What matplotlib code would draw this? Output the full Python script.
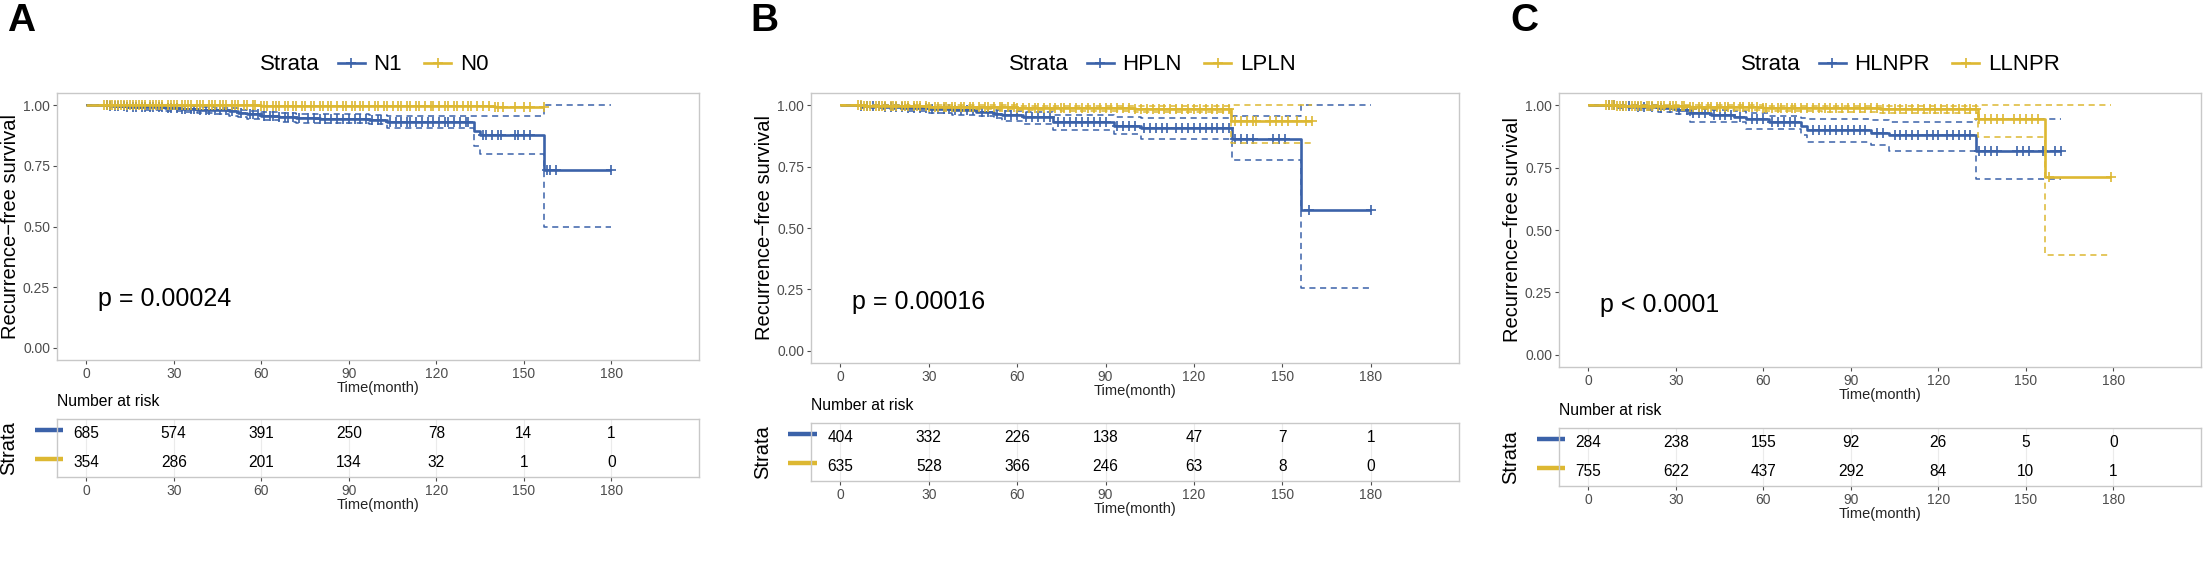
import numpy as np
import matplotlib.pyplot as plt
from matplotlib.lines import Line2D
from matplotlib.ticker import FormatStrFormatter

plt.rcParams['font.family'] = ['Liberation Sans', 'DejaVu Sans']

BLUE = '#3B62A9'
YELLOW = '#DDB832'
GREY = '#4D4D4D'

xticks = [0, 30, 60, 90, 120, 150, 180]
letters = ['A', 'B', 'C']
strata_names = [['N1', 'N0'], ['HPLN', 'LPLN'], ['HLNPR', 'LLNPR']]
p_labels = ['p = 0.00024', 'p = 0.00016', 'p < 0.0001']

# number at risk, first row = blue stratum
risk_A = [[685, 574, 391, 250, 78, 14, 1], [354, 286, 201, 134, 32, 1, 0]]
risk_B = [[404, 332, 226, 138, 47, 7, 1], [635, 528, 366, 246, 63, 8, 0]]
risk_C = [[284, 238, 155, 92, 26, 5, 0], [755, 622, 437, 292, 84, 10, 1]]

# ---- panel A ----
a_t1 = [0, 8, 14, 20, 27, 33, 38, 44, 49, 52, 55, 60, 66, 72, 80, 97, 103, 133, 135, 157]
a_s1 = [1.0, .997, .994, .991, .988, .985, .982, .978, .974, .968, .962, .957, .951, .945, .942, .938, .932, .893, .875, .731]
a_up1 = [1.0, 1.0, 1.0, .999, .997, .995, .993, .990, .987, .982, .977, .973, .968, .964, .962, .960, .957, .957, .957, 1.0]
a_lo1 = [1.0, .992, .987, .982, .977, .972, .968, .962, .957, .951, .944, .938, .932, .926, .925, .924, .905, .83, .80, .50]
a_end1 = 180
a_c1 = [7, 8, 10, 11, 13, 14, 16, 17, 19, 20, 22, 23, 25, 26, 28, 29, 31, 33, 34, 36, 37, 39, 41, 42,
        44, 46, 48, 50, 53, 56, 57, 59, 61, 63, 64, 66, 68, 69, 71, 73, 76, 78, 80, 82, 84, 86, 88, 90,
        92, 94, 96, 98, 100, 101, 104, 106, 108, 110, 111, 113, 115, 117, 119, 121, 123, 124, 126, 128,
        130, 131, 136, 137, 139, 141, 142, 147, 148, 150, 152, 158, 159, 161, 180]
a_t2 = [0, 60, 140]
a_s2 = [1.0, .997, .994]
a_end2 = 157
a_c2 = [6, 7, 8, 9, 10, 11, 12, 13, 14, 15, 16, 17, 18, 19, 20, 22, 23, 24, 25, 26, 28, 29, 30, 31, 33,
        34, 35, 36, 38, 39, 40, 42, 43, 44, 46, 47, 48, 50, 51, 52, 54, 55, 57, 58, 60, 61, 62, 64, 65,
        66, 68, 69, 71, 72, 74, 75, 77, 78, 80, 81, 83, 84, 86, 88, 89, 91, 92, 94, 95, 97, 99, 100, 102,
        103, 105, 107, 108, 110, 111, 113, 114, 116, 118, 119, 121, 123, 124, 126, 127, 129, 131, 132,
        134, 136, 138, 140, 141, 143, 147, 150, 152, 157]

# ---- panel B ----
b_t1 = [0, 7, 14, 22, 30, 38, 46, 52, 55, 62, 72, 93, 102, 133, 156.5]
b_s1 = [1.0, .996, .993, .989, .984, .979, .972, .966, .960, .954, .931, .916, .909, .862, .575]
b_up1 = [1.0, 1.0, 1.0, .998, .995, .992, .987, .982, .978, .974, .960, .953, .950, .957, 1.0]
b_lo1 = [1.0, .99, .985, .977, .970, .962, .955, .948, .935, .925, .899, .882, .864, .776, .257]
b_end1 = 180
b_c1 = [7, 9, 11, 13, 15, 17, 19, 21, 23, 25, 27, 29, 31, 33, 35, 37, 39, 41, 43, 45, 48, 50, 53, 56,
        58, 60, 63, 65, 67, 69, 71, 74, 76, 78, 80, 82, 84, 86, 88, 90, 94, 96, 98, 100, 103, 105, 107,
        109, 111, 114, 116, 118, 120, 122, 124, 126, 128, 130, 132, 134, 136, 138, 140, 147, 149, 151,
        159, 180]
b_t2 = [0, 8, 18, 30, 45, 60, 75, 100, 132.5]
b_s2 = [1.0, .999, .997, .995, .993, .99, .988, .985, .937]
b_up2 = [1.0, 1.0, 1.0, 1.0, 1.0, .999, .998, .996, 1.0]
b_lo2 = [1.0, .996, .992, .988, .984, .980, .976, .972, .847]
b_end2 = 160
b_c2 = [6, 7, 8, 9, 10, 12, 13, 14, 15, 17, 18, 19, 21, 22, 23, 25, 26, 27, 29, 30, 32, 33, 35, 36, 38,
        39, 41, 42, 44, 45, 47, 49, 50, 52, 54, 55, 57, 59, 60, 62, 64, 66, 67, 69, 71, 73, 75, 76, 78,
        80, 82, 84, 86, 88, 90, 92, 94, 96, 98, 100, 102, 104, 106, 108, 110, 112, 114, 116, 118, 120,
        122, 124, 126, 128, 130, 132, 134, 136, 138, 140, 141, 146, 148, 150, 152, 155, 158, 160]

# ---- panel C ----
c_t1 = [0, 10, 16, 24, 30, 35, 42, 50, 54, 62, 73, 75, 97, 103, 133]
c_s1 = [1.0, .996, .993, .988, .981, .969, .962, .955, .945, .935, .918, .901, .89, .88, .818]
c_up1 = [1.0, 1.0, 1.0, .998, .994, .986, .981, .976, .969, .956, .950, .947, .940, .932, .947]
c_lo1 = [1.0, .988, .983, .975, .965, .935, .935, .935, .904, .904, .88, .854, .842, .818, .703]
c_end1 = 162
c_c1 = [7, 9, 12, 14, 17, 19, 22, 25, 28, 31, 34, 36, 38, 40, 43, 45, 47, 49, 52, 56, 58, 60, 63, 65,
        67, 69, 71, 77, 79, 81, 83, 85, 87, 89, 91, 93, 95, 99, 101, 105, 107, 109, 111, 113, 116, 118,
        120, 123, 125, 127, 129, 131, 134, 136, 138, 140, 147, 149, 151, 156, 160, 162]
c_t2 = [0, 10, 20, 35, 50, 60, 80, 100, 133.5, 156.5]
c_s2 = [1.0, .998, .996, .994, .992, .99, .988, .986, .946, .711]
c_up2 = [1.0, 1.0, 1.0, 1.0, 1.0, .999, .998, .997, 1.0, 1.0]
c_lo2 = [1.0, .994, .99, .986, .982, .978, .974, .968, .875, .40]
c_end2 = 179
c_c2 = [6, 7, 8, 9, 10, 11, 12, 13, 15, 16, 17, 18, 20, 21, 22, 24, 25, 26, 28, 29, 30, 32, 33, 35, 36,
        38, 39, 41, 42, 44, 45, 47, 48, 50, 52, 53, 55, 56, 58, 60, 61, 63, 65, 66, 68, 70, 71, 73, 75,
        77, 79, 81, 83, 85, 87, 89, 91, 93, 95, 97, 99, 101, 103, 105, 107, 109, 111, 113, 115, 117,
        119, 121, 123, 125, 127, 129, 131, 133, 134, 136, 138, 140, 142, 146, 148, 150, 152, 154, 158, 179]

W, H = 2203, 585
plot_boxes = [(57, 93, 699, 360), (811, 93, 1459, 363), (1559, 93, 2201, 367)]
table_boxes = [(57, 419, 699, 477), (811, 423, 1459, 481), (1559, 428, 2201, 486)]
letter_x = [7, 750, 1510]
strata_x = [260, 1009, 1741]


def px_axes(fig, box):
    x0, y0, x1, y1 = box
    return fig.add_axes([x0 / W, 1 - y1 / H, (x1 - x0) / W, (y1 - y0) / H])


def step_xy(t, s, end):
    return list(t) + [end], list(s) + [s[-1]]


def surv_at(t, s, times):
    idx = np.searchsorted(t, times, side='right') - 1
    return np.array(s)[idx]


def style_axes(ax):
    for sp in ax.spines.values():
        sp.set_color('#C8C8C8')
        sp.set_linewidth(1.0)
    ax.tick_params(colors=GREY, labelsize=10, length=3, width=0.8, pad=2)
    ax.set_xlim(-10, 210)
    ax.set_xticks(xticks)


def draw_curve(ax, t, s, end, cens, color, up=None, lo=None):
    x, y = step_xy(t, s, end)
    if up is not None:
        xu, yu = step_xy(t, up, end)
        xl, yl = step_xy(t, lo, end)
        ax.step(xu, yu, where='post', color=color, lw=1.1, ls=(0, (4, 3)))
        ax.step(xl, yl, where='post', color=color, lw=1.1, ls=(0, (4, 3)))
    ax.step(x, y, where='post', color=color, lw=1.9, solid_capstyle='butt')
    ax.plot(cens, surv_at(t, s, cens), ls='none', marker='+', ms=7, mew=1.2, color=color)


fig = plt.figure(figsize=(W / 100, H / 100), dpi=100)

panels = [
    (a_t1, a_s1, a_up1, a_lo1, a_end1, a_c1, a_t2, a_s2, None, None, a_end2, a_c2, risk_A),
    (b_t1, b_s1, b_up1, b_lo1, b_end1, b_c1, b_t2, b_s2, b_up2, b_lo2, b_end2, b_c2, risk_B),
    (c_t1, c_s1, c_up1, c_lo1, c_end1, c_c1, c_t2, c_s2, c_up2, c_lo2, c_end2, c_c2, risk_C),
]

for i, p in enumerate(panels):
    t1, s1, up1, lo1, e1, c1, t2, s2, up2, lo2, e2, c2, risk = p
    pb = plot_boxes[i]
    tb = table_boxes[i]

    ax = px_axes(fig, pb)
    style_axes(ax)
    ax.set_ylim(-0.05, 1.05)
    ax.set_yticks([0, 0.25, 0.5, 0.75, 1.0])
    ax.yaxis.set_major_formatter(FormatStrFormatter('%.2f'))
    draw_curve(ax, t1, s1, e1, c1, BLUE, up1, lo1)
    draw_curve(ax, t2, s2, e2, c2, YELLOW, up2, lo2)
    ax.text(4, 0.2, p_labels[i], fontsize=18, ha='left', va='center')
    ax.set_xlabel('Time(month)', fontsize=10.5, color='#222222', labelpad=0)
    ax.set_ylabel('Recurrence\u2212free survival', fontsize=14.5)
    ax.yaxis.set_label_coords(-37 / (pb[2] - pb[0]), 0.5)

    # legend row
    fig.text(strata_x[i] / W, 1 - 65 / H, 'Strata', fontsize=16, ha='left', va='center')
    handles = [Line2D([], [], color=BLUE, lw=1.9, marker='+', ms=7, mew=1.2),
               Line2D([], [], color=YELLOW, lw=1.9, marker='+', ms=7, mew=1.2)]
    fig.legend(handles, strata_names[i], loc='center left',
               bbox_to_anchor=((strata_x[i] + 78) / W, 1 - 65 / H), ncol=2, frameon=False,
               fontsize=16, handlelength=1.2, handletextpad=0.4, columnspacing=1.0, borderpad=0,
               borderaxespad=0)

    fig.text(letter_x[i] / W, 1 - 3 / H, letters[i], fontsize=28, fontweight='bold',
             ha='left', va='top')

    # risk table
    axt = px_axes(fig, tb)
    style_axes(axt)
    axt.set_ylim(0.5, 2.5)
    axt.set_yticks([])
    for xt in xticks:
        axt.axvline(xt, color='#EBEBEB', lw=0.8, zorder=0)
    for row, color in zip([2, 1], [BLUE, YELLOW]):
        vals = risk[2 - row]
        for xt, v in zip(xticks, vals):
            axt.text(xt, row, str(v), fontsize=11.2, ha='center', va='center')
        axt.plot([-0.035, 0.009], [row + 0.12, row + 0.12], color=color, lw=3.2,
                 transform=axt.get_yaxis_transform(), clip_on=False, solid_capstyle='butt')
    axt.text(0, 1.0 + 10 / (tb[3] - tb[1]), 'Number at risk', fontsize=11.3,
             transform=axt.transAxes, ha='left', va='bottom')
    axt.set_xlabel('Time(month)', fontsize=10.5, color='#222222', labelpad=0)
    axt.set_ylabel('Strata', fontsize=14.5)
    axt.yaxis.set_label_coords(-39 / (tb[2] - tb[0]), 0.5)

fig.savefig('out.png', dpi=100)
